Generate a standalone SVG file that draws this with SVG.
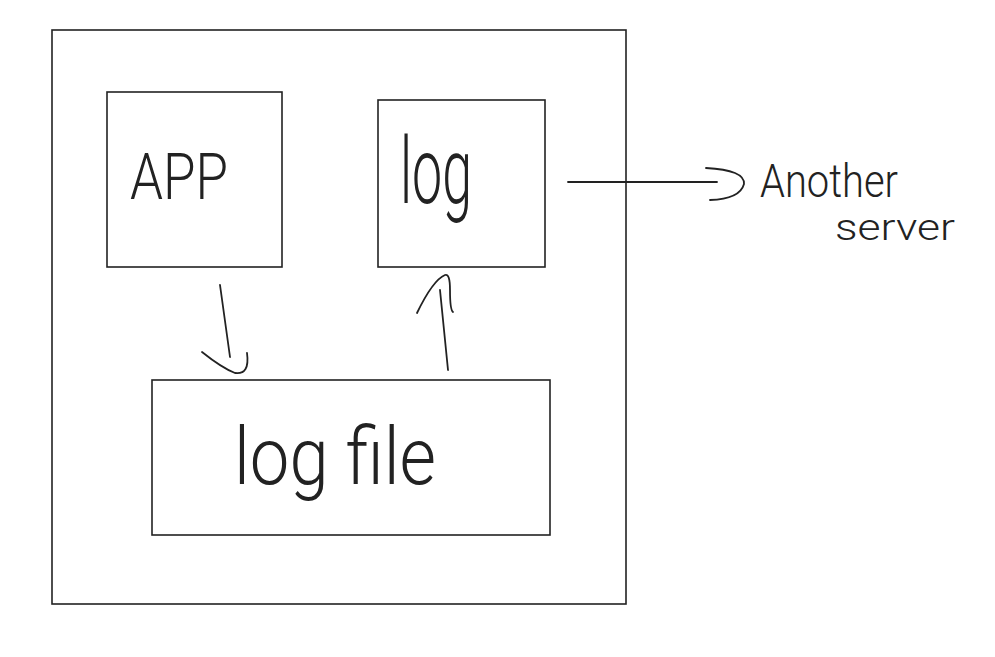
<svg xmlns="http://www.w3.org/2000/svg" width="995" height="657" viewBox="0 0 995 657">
<style>
.box{fill:none;stroke:#222;stroke-width:1.6}
.ln{fill:none;stroke:#222;stroke-width:1.8;stroke-linecap:round;stroke-linejoin:round}
.t{font-family:Roboto,"Open Sans","Liberation Sans",Arial,sans-serif;font-weight:300;fill:#222}
</style>
<rect width="995" height="657" fill="#fff"/>
<g id="server"><rect class="box" x="52" y="30" width="574" height="574"/></g>
<g id="app"><rect class="box" x="107" y="92" width="175" height="175"/>
<text class="t" x="130" y="199" font-size="64" textLength="98" lengthAdjust="spacingAndGlyphs">APP</text></g>
<g id="log"><rect class="box" x="378" y="100" width="167" height="167"/>
<text class="t" x="400" y="203" font-size="92" textLength="72" lengthAdjust="spacingAndGlyphs">log</text></g>
<g id="logfile"><rect class="box" x="152" y="380" width="398" height="155"/>
<text class="t" x="234" y="484" font-size="80" textLength="202" lengthAdjust="spacingAndGlyphs">log file</text></g>
<g id="another"><text class="t" x="760" y="197" font-size="46" textLength="138" lengthAdjust="spacingAndGlyphs">Another</text>
<text class="t" x="835" y="240" font-size="36" textLength="120" lengthAdjust="spacingAndGlyphs">server</text></g>
<g id="connectors">
<path class="ln" d="M220 285 L230 357"/>
<path class="ln" d="M202 352 Q222 368 235 373 Q250 375 247 353"/>
<path class="ln" d="M448 370 L440 290"/>
<path class="ln" d="M417 313 Q433 280 445 275 Q450 273 450 290 Q450 310 453 312"/>
<path class="ln" d="M568 182 L717 182"/>
<path class="ln" d="M706 168 Q745 170 744 184 Q740 199 710 200"/>
</g>
</svg>
